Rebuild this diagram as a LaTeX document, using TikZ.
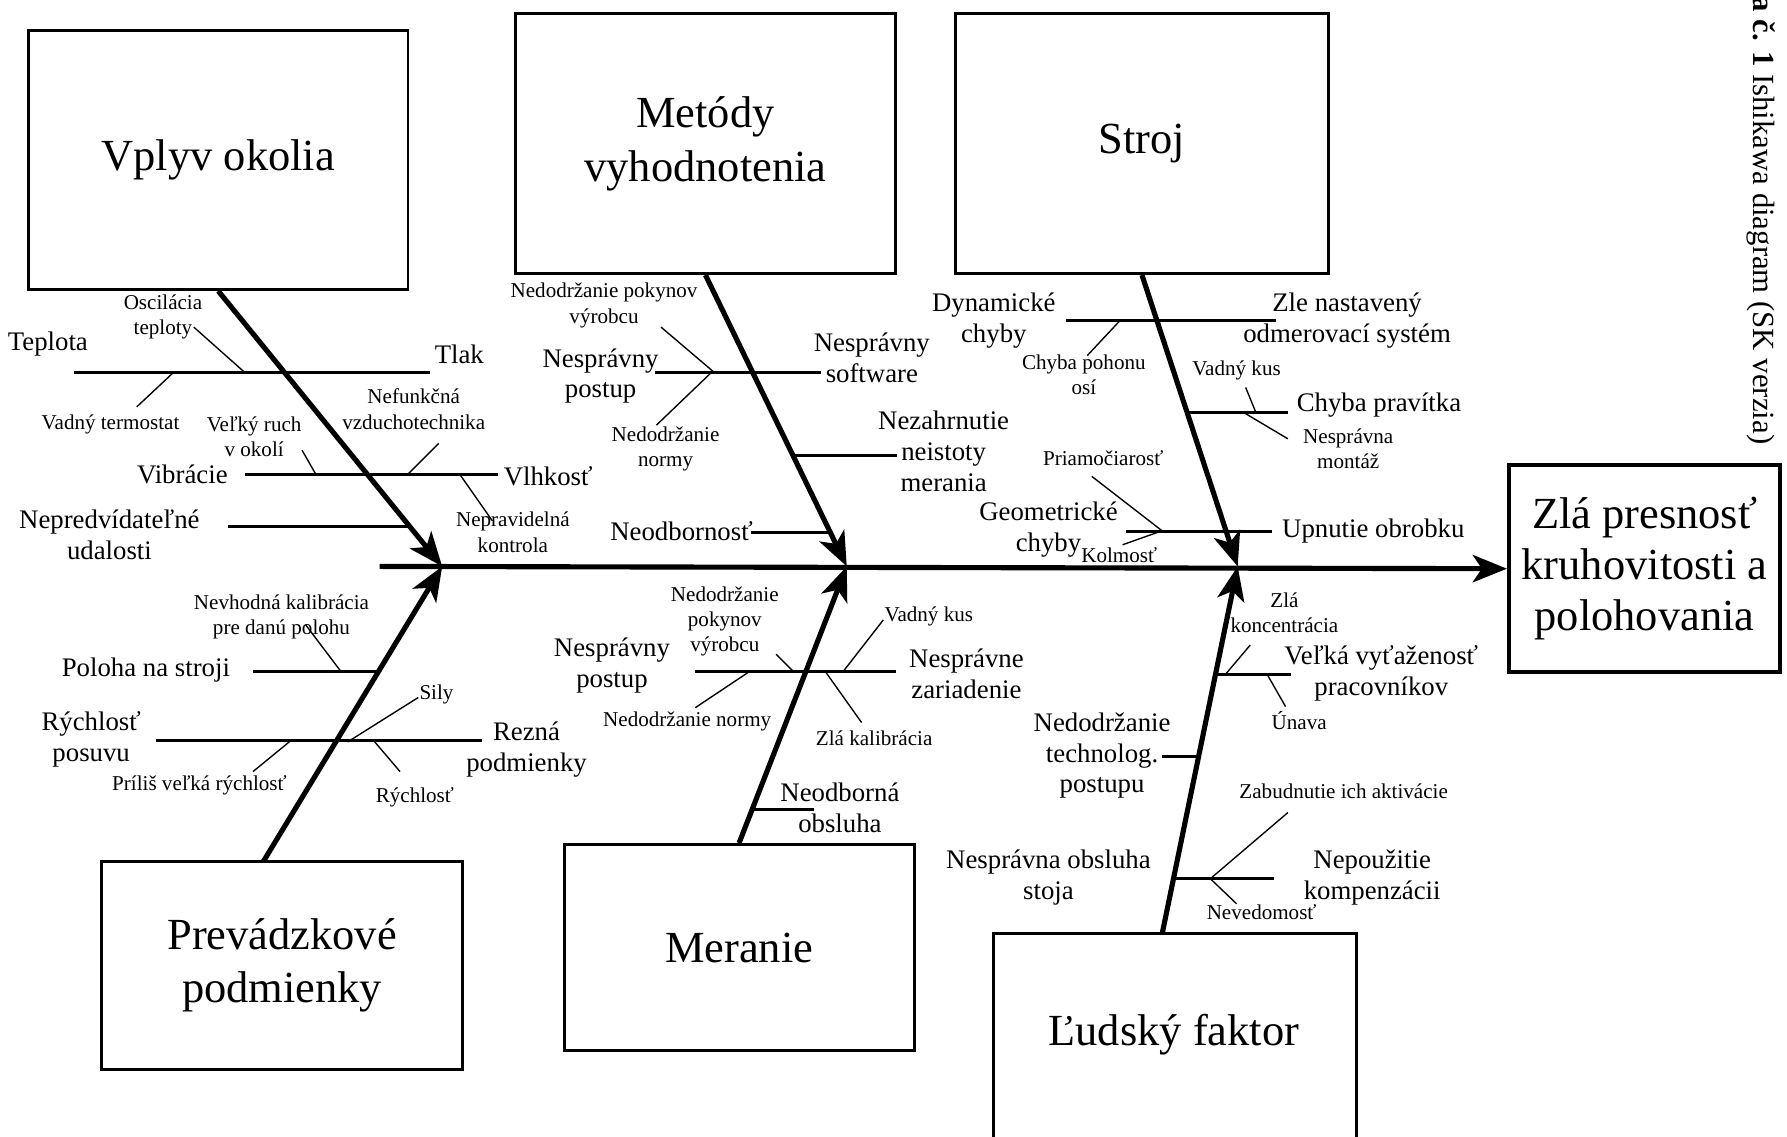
\documentclass[tikz,border=0pt]{standalone}
\usepackage{fontspec}
\setmainfont{Liberation Serif}
\usetikzlibrary{arrows.meta}
\begin{document}
\begin{tikzpicture}[x=1pt,y=-1pt,
  big/.style={font=\fontsize{39}{47}\selectfont, align=center, inner sep=0pt},
  mid/.style={font=\fontsize{23.5}{27}\selectfont, align=center, inner sep=0pt},
  sm/.style={font=\fontsize{18.5}{22}\selectfont, align=center, inner sep=0pt},
  catbox/.style={draw, line width=2.6pt, inner sep=0pt},
  bone/.style={line width=4.5pt, -{Stealth[length=30pt,width=24pt,inset=8pt]}},
  rib/.style={line width=2.7pt},
  twig/.style={line width=1.2pt}]
\useasboundingbox (0,0) rectangle (1568,997);
\clip (0,0) rectangle (1568,997);

% category boxes
\node[catbox, minimum width=333, minimum height=227, big] (box1) at (191.5,140.5) {Vplyv okolia};
\node[catbox, minimum width=334, minimum height=228, big] (box2) at (619,126) {Metódy\\vyhodnotenia};
\node[catbox, minimum width=328, minimum height=228, big] (box3) at (1002,126) {Stroj};
\node[catbox, minimum width=317, minimum height=182, big] (box4) at (247.5,847) {Prevádzkové\\podmienky};
\node[catbox, minimum width=307, minimum height=181, big] (box5) at (648.5,831.5) {Meranie};
\node[catbox, minimum width=318, minimum height=200, anchor=north] (box6) at (1031,818) {};
\node[big] (box6t) at (1030,908) {Ľudský faktor};

% effect
\node[draw, line width=3.5pt, minimum width=238, minimum height=182, big, font=\fontsize{39}{45}\selectfont] (effect) at (1443,499) {Zlá presnosť\\kruhovitosti a\\polohovania};

% caption
\node[rotate=-90, anchor=east, inner sep=0pt, font=\fontsize{27}{30}\selectfont] (caption) at (1545,390) {\textbf{a č. 1} Ishikawa diagram (SK verzia)};

% spine and bones
\coordinate (sp0) at (333,497);
\coordinate (j1) at (388,497);
\coordinate (j2) at (743,497);
\coordinate (j3) at (1086,497);
\coordinate (b4) at (231,756);
\coordinate (b6) at (1020,818);
\draw[bone] (sp0) -- (effect.west);
\draw[bone] (box1.south) -- (j1);
\draw[bone] (box2.south) -- (j2);
\draw[bone] (box3.south) -- (j3);
\draw[bone] (b4) -- (j1);
\draw[bone] (box5.north) -- (j2);
\draw[bone] (b6) -- (j3);

% medium labels
\node[mid] (teplota) at (42,302) {Teplota};
\node[mid] (tlak) at (403,311) {Tlak};
\node[mid] (vibr) at (160,416) {Vibrácie};
\node[mid] (vlhk) at (481,418) {Vlhkosť};
\node[mid] (nepred) at (96,469) {Nepredvídateľné\\udalosti};
\node[mid] (nespost1) at (527,330) {Nesprávny\\postup};
\node[mid] (nessoft) at (765,314) {Nesprávny\\software};
\node[mid] (nezahr) at (828,396) {Nezahrnutie\\neistoty\\merania};
\node[mid] (neodb) at (598,466) {Neodbornosť};
\node[mid] (dyn) at (872,281) {Dynamické\\chyby};
\node[mid] (zle) at (1182,281) {Zle nastavený\\odmerovací systém};
\node[mid] (pravitko) at (1210,355) {Chyba pravítka};
\node[mid] (geom) at (920,465) {Geometrické\\chyby};
\node[mid] (upn) at (1205,466) {Upnutie obrobku};
\node[mid] (poloha) at (128,588) {Poloha na stroji};
\node[mid] (rychpos) at (80,649) {Rýchlosť\\posuvu};
\node[mid] (rezna) at (462,658) {Rezná\\podmienky};
\node[mid] (nespost2) at (537,584) {Nesprávny\\postup};
\node[mid] (neszar) at (848,591) {Nesprávne\\zariadenie};
\node[mid] (neodbobs) at (737,709) {Neodborná\\obsluha};
\node[mid] (vytaz) at (1212,591) {Veľká vyťaženosť\\pracovníkov};
\node[mid] (nedtech) at (967,663) {Nedodržanie\\technolog.\\postupu};
\node[mid] (nesobs) at (920,770) {Nesprávna obsluha\\stoja};
\node[mid] (nepouz) at (1204,770) {Nepoužitie\\kompenzácii};

% small labels
\node[sm] (osc) at (143,278) {Oscilácia\\teploty};
\node[sm] (vterm) at (97,372) {Vadný termostat};
\node[sm] (ruch) at (223,383) {Veľký ruch\\v okolí};
\node[sm] (nefunk) at (363,359) {Nefunkčná\\vzduchotechnika};
\node[sm] (neprav) at (450,467) {Nepravidelná\\kontrola};
\node[sm] (nedpok1) at (530,268) {Nedodržanie pokynov\\výrobcu};
\node[sm] (nednorm1) at (584,394) {Nedodržanie\\normy};
\node[sm] (chpoh) at (951,329) {Chyba pohonu\\osí};
\node[sm] (vkus1) at (1085,325) {Vadný kus};
\node[sm] (montaz) at (1183,394) {Nesprávna\\montáž};
\node[sm] (priam) at (968,402) {Priamočiarosť};
\node[sm] (kolm) at (982,487) {Kolmosť};
\node[sm] (nevh) at (247,541) {Nevhodná kalibrácia\\pre danú polohu};
\node[sm] (sily) at (383,609) {Sily};
\node[sm] (prilis) at (175,689) {Príliš veľká rýchlosť};
\node[sm] (rych) at (364,700) {Rýchlosť};
\node[sm] (nedpok2) at (636,545) {Nedodržanie\\pokynov\\výrobcu};
\node[sm] (nednorm2) at (603,633) {Nedodržanie normy};
\node[sm] (vkus2) at (815,541) {Vadný kus};
\node[sm] (zlakal) at (767,648) {Zlá kalibrácia};
\node[sm] (zlakonc) at (1127,538) {Zlá\\koncentrácia};
\node[sm] (unava) at (1140,632) {Únava};
\node[sm] (zabud) at (1179,694) {Zabudnutie ich aktivácie};
\node[sm] (neved) at (1107,800) {Nevedomosť};

% rib end points
\path (65,327) coordinate (r1a) (377,327) coordinate (r1b)
      (215,416) coordinate (r2a) (437,416) coordinate (r2b)
      (200,462) coordinate (r3a) (360,462) coordinate (r3b)
      (575,327) coordinate (r4a) (720,327) coordinate (r4b)
      (697,400) coordinate (r5a) (787,400) coordinate (r5b)
      (659,467) coordinate (r6a) (729,467) coordinate (r6b)
      (935,281) coordinate (r7a) (1120,281) coordinate (r7b)
      (1042,362) coordinate (r8a) (1130,362) coordinate (r8b)
      (988,466) coordinate (r9a) (1116,466) coordinate (r9b)
      (222,589) coordinate (r10a) (331,589) coordinate (r10b)
      (137,650) coordinate (r11a) (423,650) coordinate (r11b)
      (610,589) coordinate (r12a) (786,589) coordinate (r12b)
      (662,710) coordinate (r13a) (714,710) coordinate (r13b)
      (1067,592) coordinate (r14a) (1133,592) coordinate (r14b)
      (1020,664) coordinate (r15a) (1053,664) coordinate (r15b)
      (1028,771) coordinate (r16a) (1118,771) coordinate (r16b);
\foreach \i in {1,...,16} {\draw[rib] (r\i a) -- (r\i b);}

% twig end points
\path (170,287) coordinate (t1a) (215,327) coordinate (t1b)
      (120,357) coordinate (t2a) (152,327) coordinate (t2b)
      (265,395) coordinate (t3a) (277,416) coordinate (t3b)
      (385,389) coordinate (t4a) (358,416) coordinate (t4b)
      (404,417) coordinate (t5a) (432,457) coordinate (t5b)
      (580,287) coordinate (t6a) (627,327) coordinate (t6b)
      (576,373) coordinate (t7a) (624,327) coordinate (t7b)
      (954,312) coordinate (t8a) (983,281) coordinate (t8b)
      (1093,340) coordinate (t9a) (1102,362) coordinate (t9b)
      (1093,363) coordinate (t10a) (1130,385) coordinate (t10b)
      (958,418) coordinate (t11a) (1020,466) coordinate (t11b)
      (985,478) coordinate (t12a) (1016,467) coordinate (t12b)
      (268,548) coordinate (t13a) (299,589) coordinate (t13b)
      (367,612) coordinate (t14a) (305,651) coordinate (t14b)
      (222,677) coordinate (t15a) (255,650) coordinate (t15b)
      (351,677) coordinate (t16a) (328,650) coordinate (t16b)
      (681,574) coordinate (t17a) (696,589) coordinate (t17b)
      (610,621) coordinate (t18a) (658,589) coordinate (t18b)
      (775,544) coordinate (t19a) (740,589) coordinate (t19b)
      (724,589) coordinate (t20a) (756,634) coordinate (t20b)
      (1097,566) coordinate (t21a) (1075,592) coordinate (t21b)
      (1112,592) coordinate (t22a) (1128,620) coordinate (t22b)
      (1130,713) coordinate (t23a) (1062,771) coordinate (t23b)
      (1062,771) coordinate (t24a) (1085,793) coordinate (t24b);
\foreach \i in {1,...,24} {\draw[twig] (t\i a) -- (t\i b);}
\end{tikzpicture}
\end{document}
